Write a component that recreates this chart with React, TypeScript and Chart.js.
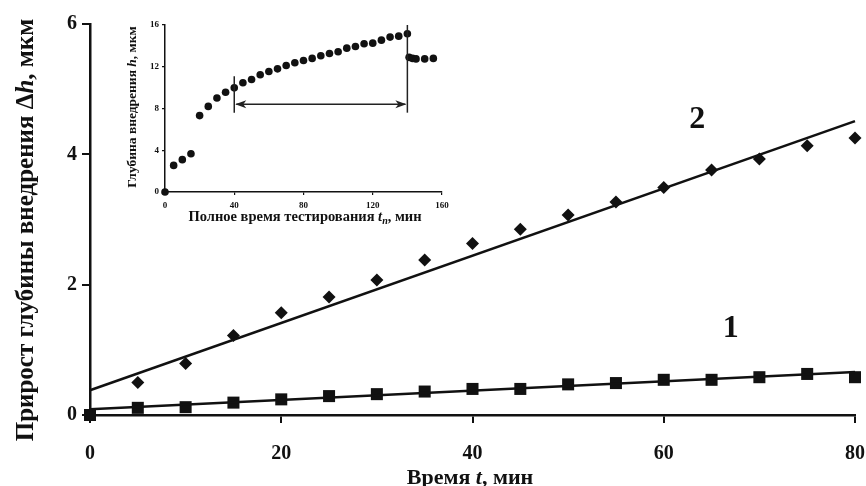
import React, { useEffect, useRef } from 'react';
import { Chart, registerables } from 'chart.js';

Chart.register(...registerables);

// ---- main chart data ----
const timeMin = [0, 5, 10, 15, 20, 25, 30, 35, 40, 45, 50, 55, 60, 65, 70, 75, 80];
const series1 = [0, 0.11, 0.12, 0.19, 0.24, 0.29, 0.32, 0.36, 0.40, 0.40, 0.47, 0.49, 0.54, 0.54, 0.58, 0.63, 0.58];
const series2 = [0, 0.50, 0.79, 1.22, 1.57, 1.81, 2.07, 2.38, 2.63, 2.85, 3.07, 3.27, 3.49, 3.76, 3.93, 4.13, 4.25];
const fitX = [0, 80];
const fit1 = [0.09, 0.66];
const fit2 = [0.38, 4.51];
const curveLabels = ['1', '2'];
const curveLabelX = [67, 63.5];
const curveLabelY = [1.33, 4.53];
const xTickValues = [0, 20, 40, 60, 80];
const yTickValues = [0, 2, 4, 6];

// ---- inset data ----
const insetTime = [0, 5, 10, 15, 20, 25, 30, 35, 40, 45, 50, 55, 60, 65, 70, 75, 80, 85, 90, 95, 100, 105, 110, 115, 120, 125, 130, 135, 140, 141, 143, 145, 150, 155];
const insetDepth = [0, 2.55, 3.1, 3.67, 7.32, 8.2, 9.0, 9.56, 9.98, 10.46, 10.78, 11.23, 11.55, 11.8, 12.12, 12.38, 12.6, 12.8, 13.05, 13.27, 13.44, 13.78, 13.94, 14.2, 14.26, 14.55, 14.84, 14.93, 15.16, 12.9, 12.8, 12.75, 12.75, 12.8];
const insetXTicks = [0, 40, 80, 120, 160];
const insetYTicks = [0, 4, 8, 12, 16];
const insetMarkT = [40, 140];
const insetMarkLow = [7.6, 7.6];
const insetMarkHigh = [11.1, 16];
const insetArrowY = 8.4;

const FONT = '"Liberation Serif", "Times New Roman", serif';
const INK = '#111';

type Part = { t: string; italic?: boolean; sub?: boolean };

function drawRich(ctx: CanvasRenderingContext2D, parts: Part[], cx: number, cy: number, size: number, rot = 0) {
  ctx.save();
  ctx.translate(cx, cy);
  if (rot) ctx.rotate(rot);
  const fontFor = (p: Part) => `${p.italic ? 'italic ' : ''}bold ${p.sub ? Math.round(size * 0.7) : size}px ${FONT}`;
  let total = 0;
  for (const p of parts) {
    ctx.font = fontFor(p);
    total += ctx.measureText(p.t).width;
  }
  let x = -total / 2;
  ctx.textBaseline = 'alphabetic';
  ctx.textAlign = 'left';
  ctx.fillStyle = INK;
  const base = size * 0.33;
  for (const p of parts) {
    ctx.font = fontFor(p);
    ctx.fillText(p.t, x, base + (p.sub ? size * 0.22 : 0));
    x += ctx.measureText(p.t).width;
  }
  ctx.restore();
}

const noPad = (s: any) => {
  s.paddingLeft = 0;
  s.paddingRight = 0;
  s.paddingTop = 0;
  s.paddingBottom = 0;
};

export default function App() {
  const mainRef = useRef<HTMLCanvasElement>(null);
  const insetRef = useRef<HTMLCanvasElement>(null);

  useEffect(() => {
    const mainTitles = {
      id: 'mainTitles',
      afterDraw(chart: any) {
        const ctx = chart.ctx as CanvasRenderingContext2D;
        const xs = chart.scales.x;
        const ys = chart.scales.y;
        drawRich(ctx, [{ t: 'Прирост глубины внедрения Δ' }, { t: 'h', italic: true }, { t: ', мкм' }], 25, 230, 25, -Math.PI / 2);
        drawRich(ctx, [{ t: 'Время ' }, { t: 't', italic: true }, { t: ', мин' }], 470, 477, 22);
        ctx.save();
        ctx.font = `bold 32px ${FONT}`;
        ctx.fillStyle = INK;
        ctx.textAlign = 'center';
        ctx.textBaseline = 'middle';
        curveLabels.forEach((l, i) => {
          ctx.fillText(l, xs.getPixelForValue(curveLabelX[i]), ys.getPixelForValue(curveLabelY[i]));
        });
        ctx.restore();
      },
    };

    const main = new Chart(mainRef.current!, {
      type: 'scatter',
      data: {
        datasets: [
          {
            type: 'line',
            data: fitX.map((x, i) => ({ x, y: fit2[i] })),
            borderColor: INK,
            borderWidth: 2.5,
            pointRadius: 0,
            showLine: true,
            clip: false,
          } as any,
          {
            type: 'line',
            data: fitX.map((x, i) => ({ x, y: fit1[i] })),
            borderColor: INK,
            borderWidth: 2.5,
            pointRadius: 0,
            showLine: true,
            clip: false,
          } as any,
          {
            data: timeMin.map((x, i) => ({ x, y: series2[i] })),
            pointStyle: 'rectRot',
            pointRadius: 6.5,
            backgroundColor: INK,
            borderColor: INK,
            borderWidth: 0,
            clip: false,
          } as any,
          {
            data: timeMin.map((x, i) => ({ x, y: series1[i] })),
            pointStyle: 'rect',
            pointRadius: 8.5,
            backgroundColor: INK,
            borderColor: INK,
            borderWidth: 0,
            clip: false,
          } as any,
        ],
      },
      options: {
        animation: false,
        responsive: false,
        events: [],
        layout: { padding: { top: 24, right: 11, left: 0, bottom: 0 } },
        plugins: { legend: { display: false }, tooltip: { enabled: false } },
        scales: {
          x: {
            type: 'linear',
            min: 0,
            max: 80,
            afterBuildTicks: (s: any) => { s.ticks = xTickValues.map((v) => ({ value: v })); },
            afterFit: (s: any) => { s.height = 71; noPad(s); },
            ticks: { font: { family: FONT, size: 20, weight: 'bold' }, color: INK, padding: 19, maxRotation: 0 },
            grid: { display: true, drawOnChartArea: false, drawTicks: true, tickLength: 8, lineWidth: 2, color: INK },
            border: { display: true, width: 2.5, color: INK },
          },
          y: {
            type: 'linear',
            min: 0,
            max: 6,
            afterBuildTicks: (s: any) => { s.ticks = yTickValues.map((v) => ({ value: v })); },
            afterFit: (s: any) => { s.width = 90; noPad(s); },
            ticks: { font: { family: FONT, size: 20, weight: 'bold' }, color: INK, padding: 5 },
            grid: { display: true, drawOnChartArea: false, drawTicks: true, tickLength: 8, lineWidth: 2, color: INK },
            border: { display: true, width: 2.5, color: INK },
          },
        },
      } as any,
      plugins: [mainTitles],
    });

    const insetDecor = {
      id: 'insetDecor',
      afterDatasetsDraw(chart: any) {
        const ctx = chart.ctx as CanvasRenderingContext2D;
        const xs = chart.scales.x;
        const ys = chart.scales.y;
        ctx.save();
        ctx.strokeStyle = '#222';
        ctx.fillStyle = '#222';
        ctx.lineWidth = 1.5;
        insetMarkT.forEach((t, i) => {
          const px = xs.getPixelForValue(t);
          ctx.beginPath();
          ctx.moveTo(px, ys.getPixelForValue(insetMarkLow[i]));
          ctx.lineTo(px, ys.getPixelForValue(insetMarkHigh[i]));
          ctx.stroke();
        });
        const x1 = xs.getPixelForValue(insetMarkT[0]);
        const x2 = xs.getPixelForValue(insetMarkT[1]);
        const ay = ys.getPixelForValue(insetArrowY);
        ctx.beginPath();
        ctx.moveTo(x1 + 2, ay);
        ctx.lineTo(x2 - 2, ay);
        ctx.stroke();
        const head = (tip: number, dir: number) => {
          ctx.beginPath();
          ctx.moveTo(tip, ay);
          ctx.lineTo(tip + dir * 11, ay - 4);
          ctx.lineTo(tip + dir * 8, ay);
          ctx.lineTo(tip + dir * 11, ay + 4);
          ctx.closePath();
          ctx.fill();
        };
        head(x1 + 1, 1);
        head(x2 - 1, -1);
        ctx.restore();
        drawRich(ctx, [{ t: 'Глубина внедрения ' }, { t: 'h', italic: true }, { t: ', мкм' }], 32, 107, 13.5, -Math.PI / 2);
        drawRich(ctx, [{ t: 'Полное время тестирования ' }, { t: 't', italic: true }, { t: 'п', italic: true, sub: true }, { t: ', мин' }], 205, 216, 14.5);
      },
    };

    const inset = new Chart(insetRef.current!, {
      type: 'scatter',
      data: {
        datasets: [
          {
            data: insetTime.map((x, i) => ({ x, y: insetDepth[i] })),
            pointStyle: 'circle',
            pointRadius: 3.8,
            backgroundColor: INK,
            borderColor: INK,
            borderWidth: 0,
            clip: false,
          } as any,
        ],
      },
      options: {
        animation: false,
        responsive: false,
        events: [],
        layout: { padding: { top: 25, right: 18, left: 0, bottom: 0 } },
        plugins: { legend: { display: false }, tooltip: { enabled: false } },
        scales: {
          x: {
            type: 'linear',
            min: 0,
            max: 160,
            afterBuildTicks: (s: any) => { s.ticks = insetXTicks.map((v) => ({ value: v })); },
            ticks: { font: { family: FONT, size: 9, weight: 'bold' }, color: INK, padding: 5, maxRotation: 0 },
            afterFit: (s: any) => { s.height = 40; noPad(s); },
            grid: { display: true, drawOnChartArea: false, drawTicks: true, tickLength: 3, lineWidth: 1.2, color: INK },
            border: { display: true, width: 1.5, color: INK },
          },
          y: {
            type: 'linear',
            min: 0,
            max: 16,
            afterBuildTicks: (s: any) => { s.ticks = insetYTicks.map((v) => ({ value: v })); },
            ticks: { font: { family: FONT, size: 9, weight: 'bold' }, color: INK, padding: 3 },
            afterFit: (s: any) => { s.width = 65; noPad(s); },
            grid: { display: true, drawOnChartArea: false, drawTicks: true, tickLength: 3, lineWidth: 1.2, color: INK },
            border: { display: true, width: 1.5, color: INK },
          },
        },
      } as any,
      plugins: [insetDecor],
    });

    return () => {
      main.destroy();
      inset.destroy();
    };
  }, []);

  return (
    <div style={{ position: 'fixed', left: 0, top: 0, width: 866, height: 486, background: '#fff' }}>
      <canvas ref={mainRef} width={866} height={486} style={{ position: 'absolute', left: 0, top: 0, width: 866, height: 486 }} />
      <canvas ref={insetRef} width={360} height={232} style={{ position: 'absolute', left: 100, top: 0, width: 360, height: 232 }} />
    </div>
  );
}
